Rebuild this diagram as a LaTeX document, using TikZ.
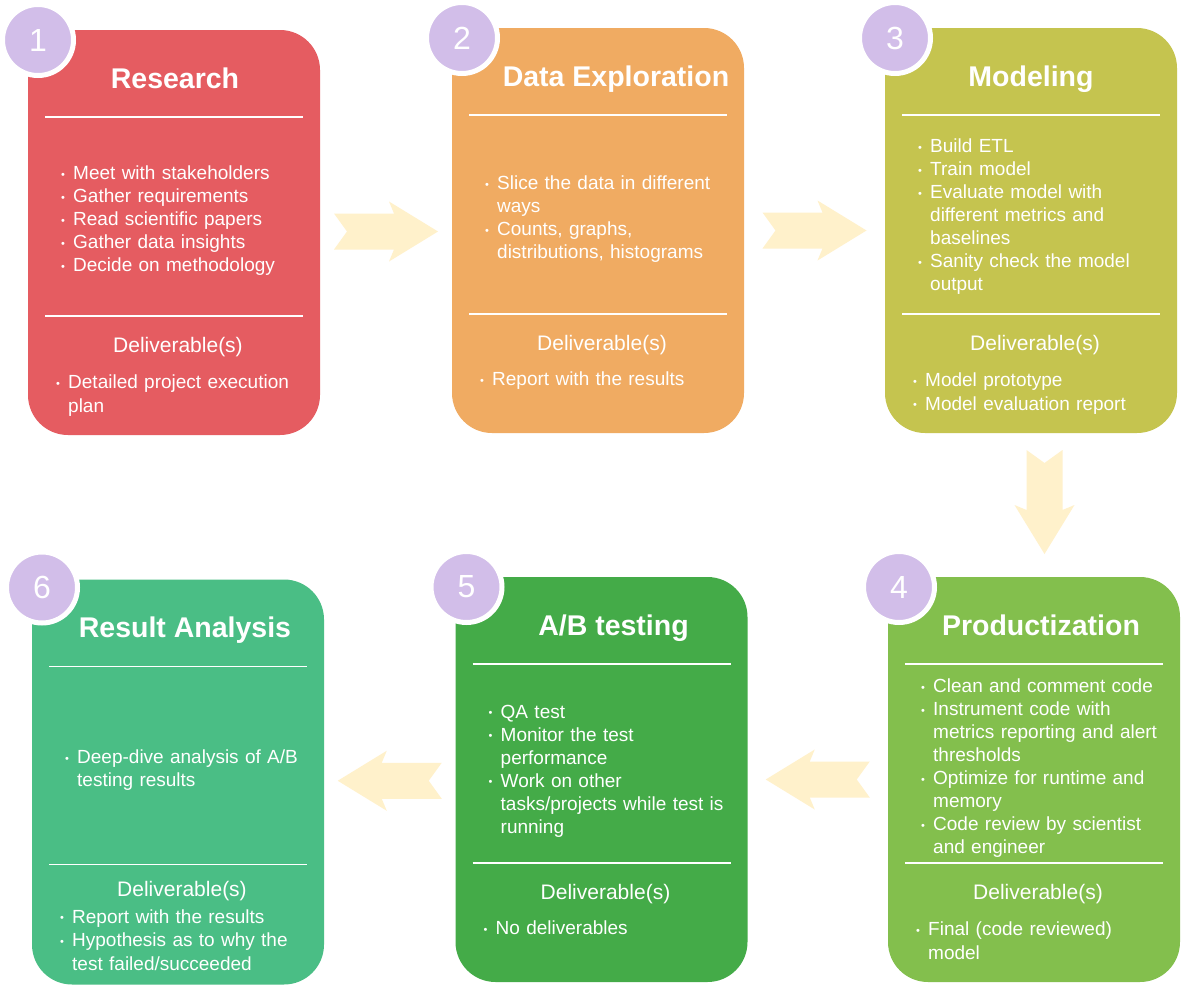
\documentclass[tikz,border=0pt]{standalone}
\usepackage{fontspec}
\setmainfont{Liberation Sans}
\usetikzlibrary{positioning, calc}
\definecolor{resred}{HTML}{E55C61}
\definecolor{exporange}{HTML}{F0AB62}
\definecolor{modolive}{HTML}{C5C44F}
\definecolor{prodgreen}{HTML}{83BF4D}
\definecolor{abgreen}{HTML}{44AB48}
\definecolor{anateal}{HTML}{4ABE85}
\definecolor{lilac}{HTML}{D2BEE9}
\definecolor{paleyellow}{HTML}{FFF1CB}

% one bullet point with hanging indent
\newcommand{\dotitem}[1]{\par\hangindent=11pt\hangafter=1\noindent
  \hbox to 11pt{\hskip-1pt\raisebox{1.5pt}{\fontsize{11}{11}\selectfont\textbullet}\hss}\strut#1\par}

\tikzset{
  stagebox/.style={rectangle, rounded corners=40pt, minimum width=292pt,
    minimum height=405pt, inner sep=0pt, outer sep=0pt},
  stagetitle/.style={anchor=base, inner sep=0pt, text=white,
    font=\fontsize{28.5}{34}\selectfont\bfseries},
  sepline/.style={white, line width=1.6pt},
  itemlist/.style={anchor=west, inner sep=0pt, text=white, text width=262pt,
    align=left, font=\fontsize{19}{23}\selectfont},
  delivhead/.style={anchor=base, inner sep=0pt, text=white,
    font=\fontsize{21}{25}\selectfont},
  delivlist/.style={anchor=north west, inner sep=0pt, text=white, text width=262pt,
    align=left, font=\fontsize{19}{23.5}\selectfont},
  numdisc/.style={circle, fill=lilac, draw=white, line width=5pt, minimum size=71pt,
    inner sep=0pt, text=white, font=\fontsize{32}{32}\selectfont},
  pics/blockarrow/.style={code={
    \fill[paleyellow] (-52,-18) -- (8,-18) -- (3,-30) -- (52,0) -- (3,30)
      -- (8,18) -- (-52,18) -- (-39,0) -- cycle;
  }},
}

\begin{document}
\begin{tikzpicture}[x=1pt, y=-1pt]

% Background
\fill[white] (0,0) rectangle (1200,1004);
\useasboundingbox (0,0) rectangle (1200,1004);

% Stage 1: Research
\node[stagebox, fill=resred] (research) at (174,232.5) {};
\node[stagetitle] (researchtitle) at ($(research.north)+(1,58)$) {Research};
\draw[sepline] ($(research.north west)+(17,87)$) -- ($(research.north east)+(-17,87)$);
\draw[sepline] ($(research.north west)+(17,286)$) -- ($(research.north east)+(-17,286)$);
\node[itemlist] (researchtasks) at ($(research.north west)+(34,187.5)$) {%
  \dotitem{Meet with stakeholders}
  \dotitem{Gather requirements}
  \dotitem{Read scientific papers}
  \dotitem{Gather data insights}
  \dotitem{Decide on methodology}};
\node[delivhead] (researchdel) at ($(research.north)+(4,322)$) {Deliverable(s)};
\node[delivlist] (researchout) at ($(research.north west)+(29,335)$) {%
  \dotitem{Detailed project execution\newline plan}};
\node[numdisc] (researchnum) at ($(research.north west)+(10,10)$) {1};

% Stage 2: Data Exploration
\node[stagebox, fill=exporange] (explore) at (598,230.5) {};
\node[stagetitle] (exploretitle) at ($(explore.north)+(18,58)$) {Data Exploration};
\draw[sepline] ($(explore.north west)+(17,87)$) -- ($(explore.north east)+(-17,87)$);
\draw[sepline] ($(explore.north west)+(17,286)$) -- ($(explore.north east)+(-17,286)$);
\node[itemlist] (exploretasks) at ($(explore.north west)+(34,186.5)$) {%
  \dotitem{Slice the data in different\newline ways}
  \dotitem{Counts, graphs,\newline distributions, histograms}};
\node[delivhead] (exploredel) at ($(explore.north)+(4,322)$) {Deliverable(s)};
\node[delivlist] (exploreout) at ($(explore.north west)+(29,334)$) {%
  \dotitem{Report with the results}};
\node[numdisc] (explorenum) at ($(explore.north west)+(10,10)$) {2};

% Stage 3: Modeling
\node[stagebox, fill=modolive] (modeling) at (1031,230.5) {};
\node[stagetitle] (modelingtitle) at ($(modeling.north)+(0,58)$) {Modeling};
\draw[sepline] ($(modeling.north west)+(17,87)$) -- ($(modeling.north east)+(-17,87)$);
\draw[sepline] ($(modeling.north west)+(17,286)$) -- ($(modeling.north east)+(-17,286)$);
\node[itemlist] (modelingtasks) at ($(modeling.north west)+(34,184)$) {%
  \dotitem{Build ETL}
  \dotitem{Train model}
  \dotitem{Evaluate model with\newline different metrics and\newline baselines}
  \dotitem{Sanity check the model\newline output}};
\node[delivhead] (modelingdel) at ($(modeling.north)+(4,322)$) {Deliverable(s)};
\node[delivlist] (modelingout) at ($(modeling.north west)+(29,335)$) {%
  \dotitem{Model prototype}
  \dotitem{Model evaluation report}};
\node[numdisc] (modelingnum) at ($(modeling.north west)+(10,10)$) {3};

% Stage 4: Productization
\node[stagebox, fill=prodgreen] (product) at (1034,779.5) {};
\node[stagetitle] (producttitle) at ($(product.north)+(7,58)$) {Productization};
\draw[sepline] ($(product.north west)+(17,87)$) -- ($(product.north east)+(-17,87)$);
\draw[sepline] ($(product.north west)+(17,286)$) -- ($(product.north east)+(-17,286)$);
\node[itemlist] (producttasks) at ($(product.north west)+(34,186.5)$) {%
  \dotitem{Clean and comment code}
  \dotitem{Instrument code with\newline metrics reporting and alert\newline thresholds}
  \dotitem{Optimize for runtime and\newline memory}
  \dotitem{Code review by scientist\newline and engineer}};
\node[delivhead] (productdel) at ($(product.north)+(4,322)$) {Deliverable(s)};
\node[delivlist] (productout) at ($(product.north west)+(29,335)$) {%
  \dotitem{Final (code reviewed)\newline model}};
\node[numdisc] (productnum) at ($(product.north west)+(11,10)$) {4};

% Stage 5: A/B testing
\node[stagebox, fill=abgreen] (abtest) at (601.5,779.5) {};
\node[stagetitle] (abtesttitle) at ($(abtest.north)+(12,58)$) {A/B testing};
\draw[sepline] ($(abtest.north west)+(17,87)$) -- ($(abtest.north east)+(-17,87)$);
\draw[sepline] ($(abtest.north west)+(17,286)$) -- ($(abtest.north east)+(-17,286)$);
\node[itemlist] (abtesttasks) at ($(abtest.north west)+(34,189)$) {%
  \dotitem{QA test}
  \dotitem{Monitor the test\newline performance}
  \dotitem{Work on other\newline tasks/projects while test is\newline running}};
\node[delivhead] (abtestdel) at ($(abtest.north)+(4,322)$) {Deliverable(s)};
\node[delivlist] (abtestout) at ($(abtest.north west)+(29,334)$) {%
  \dotitem{No deliverables}};
\node[numdisc] (abtestnum) at ($(abtest.north west)+(11,10)$) {5};

% Stage 6: Result Analysis
\node[stagebox, fill=anateal] (analysis) at (178,782) {};
\node[stagetitle] (analysistitle) at ($(analysis.north)+(7,58)$) {Result Analysis};
\draw[sepline] ($(analysis.north west)+(17,87)$) -- ($(analysis.north east)+(-17,87)$);
\draw[sepline] ($(analysis.north west)+(17,285)$) -- ($(analysis.north east)+(-17,285)$);
\node[itemlist] (analysistasks) at ($(analysis.north west)+(34,186)$) {%
  \dotitem{Deep-dive analysis of A/B\newline testing results}};
\node[delivhead] (analysisdel) at ($(analysis.north)+(4,316.5)$) {Deliverable(s)};
\node[delivlist] (analysisout) at ($(analysis.north west)+(29,320)$) {%
  \dotitem{Report with the results}
  \dotitem{Hypothesis as to why the\newline test failed/succeeded}};
\node[numdisc] (analysisnum) at ($(analysis.north west)+(10,8)$) {6};

% Flow arrows
\pic at ($(research.east)!0.5!(explore.west)$) {blockarrow};
\pic at ($(explore.east)!0.5!(modeling.west)$) {blockarrow};
\pic[rotate=-90] at ($(modeling.south)!0.5!(product.north)+(12,-3)$) {blockarrow};
\pic[rotate=180] at ($(product.west)!0.5!(abtest.east)$) {blockarrow};
\pic[rotate=180] at ($(abtest.west)!0.5!(analysis.east)$) {blockarrow};

\end{tikzpicture}
\end{document}
